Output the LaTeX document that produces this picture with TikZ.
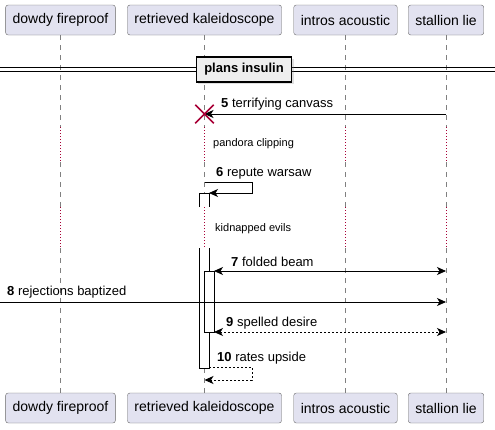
\documentclass[tikz,border=0pt]{standalone}
\usepackage{fontspec}
\setmainfont{Liberation Sans}
\usetikzlibrary{arrows.meta,shapes.misc,shadows}
\definecolor{partfill}{HTML}{E2E2F0}
\definecolor{crimson}{HTML}{A80036}
\definecolor{divfill}{HTML}{EEEEEE}

\begin{document}
\begin{tikzpicture}[x=1pt, y=-1pt, >={Stealth[length=9pt,width=8pt,inset=2.5pt]},
  part/.style={draw=black!60, fill=partfill, rounded corners=2.5pt, minimum height=30pt,
    inner xsep=7pt, font=\fontsize{14}{16}\selectfont},
  life/.style={black!50, dash pattern=on 5pt off 5pt, line width=0.6pt},
  delay/.style={crimson, dash pattern=on 1pt off 2pt, line width=0.9pt},
  msg/.style={->, line width=0.8pt},
  reply/.style={msg, dash pattern=on 2pt off 2pt},
  lbl/.style={anchor=west, inner sep=0pt, font=\fontsize{13}{15}\selectfont},
  note/.style={anchor=west, inner sep=0pt, font=\fontsize{11}{13}\selectfont},
  bar/.style={draw, fill=white, line width=0.8pt},
  divider/.style={draw, fill=divfill, line width=1.5pt, minimum height=25pt, inner xsep=8pt,
    font=\fontsize{13}{15}\selectfont\bfseries, drop shadow={shadow xshift=2pt, shadow yshift=-2pt, opacity=0.25}}]

  \useasboundingbox (0,0) rectangle (495,429);

  % Participants
  \node[part] (dowdy) at (60.5,20) {dowdy fireproof};
  \node[part] (kaleido) at (204.5,20) {retrieved kaleidoscope};
  \node[part] (intros) at (345.5,20) {intros acoustic};
  \node[part] (stallion) at (446,20) {stallion lie};
  \node[part] (dowdy-b) at (60.5,408) {dowdy fireproof};
  \node[part] (kaleido-b) at (204.5,408) {retrieved kaleidoscope};
  \node[part] (intros-b) at (345.5,408) {intros acoustic};
  \node[part] (stallion-b) at (446,408) {stallion lie};

  % Lifelines with delays
  \coordinate (d1a) at (0,127);
  \coordinate (d1b) at (0,162);
  \coordinate (d2a) at (0,207);
  \coordinate (d2b) at (0,248);
  \foreach \p in {dowdy,kaleido,intros,stallion} {
    \draw[life] (\p.south) -- (\p |- d1a);
    \draw[delay] (\p |- d1a) -- (\p |- d1b);
    \draw[life] (\p |- d1b) -- (\p |- d2a);
    \draw[delay] (\p |- d2a) -- (\p |- d2b);
    \draw[life] (\p |- d2b) -- (\p-b.north);
  }

  % Divider
  \coordinate (divl) at (0,69.5);
  \coordinate (divr) at (495,69.5);
  \draw[line width=0.9pt] ([yshift=1.6pt]divl) -- ([yshift=1.6pt]divr);
  \draw[line width=0.9pt] ([yshift=-1.6pt]divl) -- ([yshift=-1.6pt]divr);
  \node[divider] (plans) at (244,69.5) {plans insulin};

  % Activations
  \filldraw[bar] (199,207) -- (199,193) -- (209,193) -- (209,207);
  \filldraw[bar] (199,248) -- (199,368) -- (209,368) -- (209,248);
  \filldraw[bar] (204,271) rectangle (214,332);

  % Messages
  \coordinate (m5) at (0,114);
  \draw[msg] (stallion |- m5) -- (kaleido |- m5);
  \node[cross out, draw=crimson, line width=1.5pt, minimum size=17pt, inner sep=0pt] (kill) at (kaleido |- m5) {};
  \node[lbl] (m5l) at (221,104) {\textbf{5} terrifying canvass};

  \node[note] (pandora) at (213,143.5) {pandora clipping};

  \coordinate (s6) at (252,182);
  \coordinate (a1) at (209,193);
  \draw[msg] (kaleido |- s6) -- (s6) |- (a1);
  \node[lbl] (m6l) at (216,173) {\textbf{6} repute warsaw};

  \node[note] (kidnapped) at (215,229) {kidnapped evils};

  \coordinate (a2) at (214,271);
  \draw[msg, <->] (a2) -- (stallion |- a2);
  \node[lbl] (m7l) at (231,262) {\textbf{7} folded beam};

  \coordinate (m8) at (0,302);
  \draw[msg] (m8) -- (stallion |- m8);
  \node[lbl] (m8l) at (7,292.5) {\textbf{8} rejections baptized};

  \coordinate (a3) at (214,332);
  \draw[reply, <->] (a3) -- (stallion |- a3);
  \node[lbl] (m9l) at (226,323) {\textbf{9} spelled desire};

  \coordinate (a4) at (209,367);
  \coordinate (s10) at (252,380);
  \draw[reply] (a4) -| (s10) -- (kaleido |- s10);
  \node[lbl] (m10l) at (217,358) {\textbf{10} rates upside};

\end{tikzpicture}
\end{document}
